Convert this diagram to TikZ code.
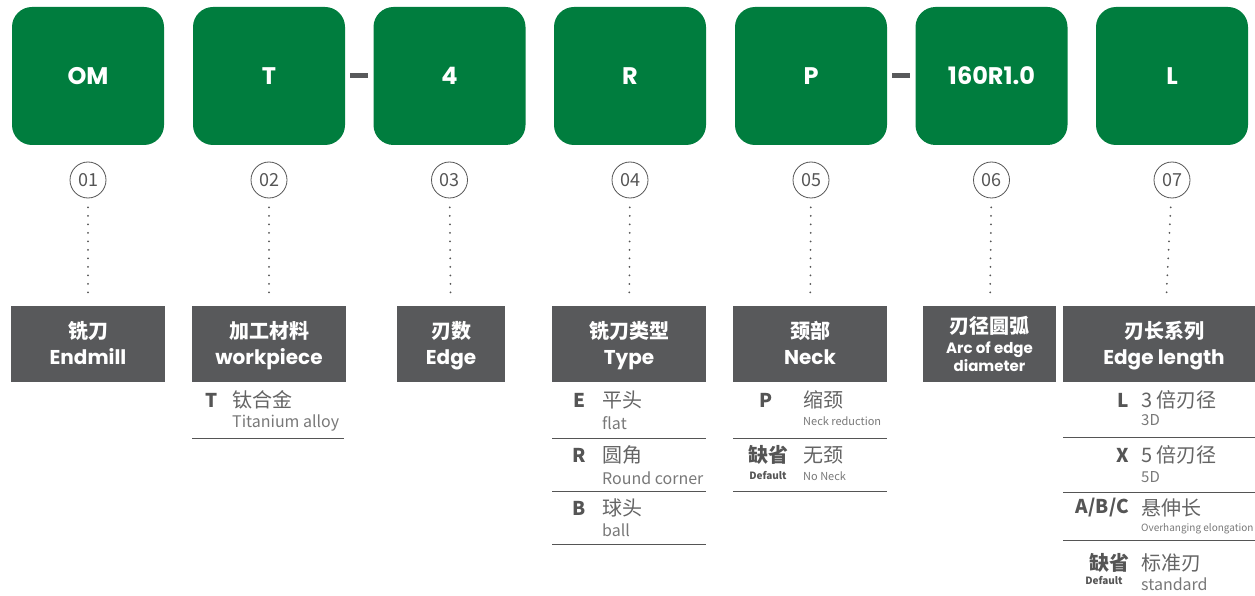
\documentclass[tikz,border=0pt]{standalone}
\usepackage{fontspec}
\setmainfont{Noto Sans CJK SC}
\newfontfamily\popfont{Poppins}
\usetikzlibrary{positioning}
\definecolor{okgreen}{RGB}{0,125,62}
\definecolor{headgray}{RGB}{88,89,91}
\definecolor{codegray}{RGB}{85,85,85}
\definecolor{textgray}{RGB}{100,100,100}
\definecolor{softgray}{RGB}{120,120,120}

\begin{document}
\begin{tikzpicture}[x=1pt,y=-1pt,
    greenbox/.style={fill=okgreen, rounded corners=20pt, minimum width=152pt,
      minimum height=138pt, inner sep=0pt, text=white,
      font=\popfont\bfseries\fontsize{24}{28}\selectfont},
    numcircle/.style={circle, draw=codegray, line width=0.8pt, minimum size=36pt,
      inner sep=0pt, text=codegray, font=\fontsize{18}{20}\selectfont},
    headbox/.style={fill=headgray, minimum height=76pt, inner sep=0pt, text=white,
      align=center, text height=46pt, text depth=5pt,
      font=\bfseries\fontsize{20}{26}\selectfont},
    codetext/.style={text=codegray, inner sep=0pt, font=\bfseries\fontsize{19}{22}\selectfont},
    cntext/.style={text=textgray, inner sep=0pt, anchor=west, font=\fontsize{20}{24}\selectfont},
    entext/.style={text=softgray, inner sep=0pt, anchor=west, font=\fontsize{16}{18}\selectfont},
    smalltext/.style={text=softgray, inner sep=0pt, anchor=west, font=\fontsize{11}{13}\selectfont},
    deftext/.style={text=codegray, inner sep=0pt, font=\bfseries\fontsize{10}{12}\selectfont},
    rowline/.style={draw=codegray, line width=0.8pt},
    dotline/.style={draw=codegray, line width=2pt, dash pattern=on 0pt off 8.5pt,
      line cap=round, shorten <=9pt, shorten >=9pt},
    dashbar/.style={draw=headgray, line width=5pt, shorten <=5pt, shorten >=5pt}]
    \useasboundingbox (0,0) rectangle (1255,596);

    % code boxes and numbers
    \foreach \i/\x/\t in {1/88/OM, 2/269/T, 3/449.5/4, 4/630/R, 5/811/P, 6/991.5/160R1.0, 7/1172/L} {
        \node[greenbox] (g\i) at (\x,76) {\t};
        \node[numcircle] (n\i) at (\x,180) {0\i};
    }
    \draw[dashbar] (g2.east) -- (g3.west);
    \draw[dashbar] (g5.east) -- (g6.west);

    % headers
    \node[headbox, minimum width=154pt] (h1) at (88,344) {铣刀\\{\popfont Endmill}};
    \node[headbox, minimum width=154pt] (h2) at (269,344) {加工材料\\{\popfont workpiece}};
    \node[headbox, minimum width=108pt] (h3) at (451,344) {刃数\\{\popfont Edge}};
    \node[headbox, minimum width=154pt] (h4) at (629,344) {铣刀类型\\{\popfont Type}};
    \node[headbox, minimum width=154pt] (h5) at (810,344) {颈部\\{\popfont Neck}};
    \node[headbox, minimum width=133pt, text height=, text depth=] (h6) at (989.5,344)
        {刃径圆弧\\[-6pt]{\popfont\fontsize{15}{19}\selectfont Arc of edge}\\[-8pt]{\popfont\fontsize{15}{19}\selectfont diameter}};
    \node[headbox, minimum width=202pt] (h7) at (1164,344) {刃长系列\\{\popfont Edge length}};

    \foreach \i in {1,...,7}
        \draw[dotline] (n\i) -- (h\i);

    % workpiece
    \node[codetext] (c2a) at (212,400) {T};
    \node[cntext] (t2a) at (232,400) {钛合金};
    \node[entext] (e2a) at (232,423) {Titanium alloy};
    \draw[rowline] (192,438) -- (344,438);

    % type
    \node[codetext] (c4a) at (579,400) {E};
    \node[cntext] (t4a) at (602,400) {平头};
    \node[entext] (e4a) at (602,423) {flat};
    \draw[rowline] (552,438) -- (706,438);
    \node[codetext] (c4b) at (579,455) {R};
    \node[cntext] (t4b) at (602,455) {圆角};
    \node[entext] (e4b) at (602,478) {Round corner};
    \draw[rowline] (552,491) -- (706,491);
    \node[codetext] (c4c) at (579,508) {B};
    \node[cntext] (t4c) at (602,508) {球头};
    \node[entext] (e4c) at (602,530) {ball};
    \draw[rowline] (552,544) -- (706,544);

    % neck
    \node[codetext] (c5a) at (766,400) {P};
    \node[cntext] (t5a) at (803,400) {缩颈};
    \node[smalltext] (e5a) at (803,421) {Neck reduction};
    \draw[rowline] (733,438) -- (887,438);
    \node[codetext, font=\bfseries\fontsize{20}{24}\selectfont] (c5b) at (768,455) {缺省};
    \node[deftext] (d5b) at (768,476) {Default};
    \node[cntext] (t5b) at (803,455) {无颈};
    \node[smalltext] (e5b) at (803,476) {No Neck};
    \draw[rowline] (733,491) -- (887,491);

    % edge length
    \node[codetext, anchor=east] (c7a) at (1129,400) {L};
    \node[cntext] (t7a) at (1141,400) {3 倍刃径};
    \node[entext, font=\fontsize{15}{18}\selectfont] (e7a) at (1141,420) {3D};
    \draw[rowline] (1063,437) -- (1255,437);
    \node[codetext, anchor=east] (c7b) at (1129,455) {X};
    \node[cntext] (t7b) at (1141,455) {5 倍刃径};
    \node[entext, font=\fontsize{15}{18}\selectfont] (e7b) at (1141,477) {5D};
    \draw[rowline] (1063,492) -- (1255,492);
    \node[codetext, anchor=east] (c7c) at (1129,508) {A/B/C};
    \node[cntext] (t7c) at (1141,508) {悬伸长};
    \node[smalltext, font=\fontsize{10}{12}\selectfont] (e7c) at (1141,529) {Overhanging elongation};
    \draw[rowline] (1063,540) -- (1255,540);
    \node[codetext, anchor=east, font=\bfseries\fontsize{20}{24}\selectfont] (c7d) at (1130,563) {缺省};
    \node[deftext] (d7d) at (1104,580) {Default};
    \node[cntext] (t7d) at (1141,563) {标准刃};
    \node[entext] (e7d) at (1141,584) {standard};
\end{tikzpicture}
\end{document}
